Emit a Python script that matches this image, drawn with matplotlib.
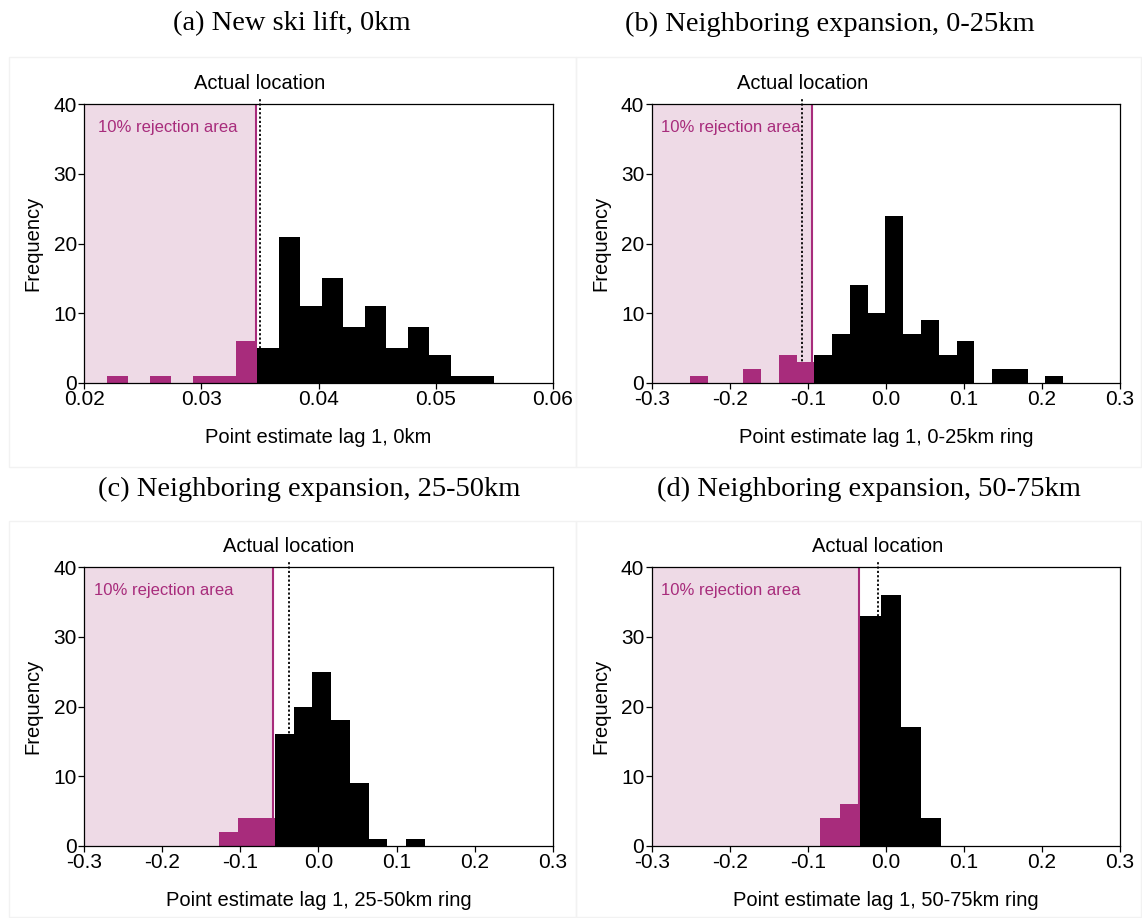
import numpy as np
import matplotlib
matplotlib.use("Agg")
import matplotlib.pyplot as plt
from matplotlib.patches import Rectangle

plt.rcParams['font.family'] = ['Liberation Sans', 'DejaVu Sans']

MAGENTA = '#a82c7c'
SHADE = '#eedae6'

titles = ["(a) New ski lift, 0km",
          "(b) Neighboring expansion, 0-25km",
          "(c) Neighboring expansion, 25-50km",
          "(d) Neighboring expansion, 50-75km"]
xlabels = ["Point estimate lag 1, 0km",
           "Point estimate lag 1, 0-25km ring",
           "Point estimate lag 1, 25-50km ring",
           "Point estimate lag 1, 50-75km ring"]

# placebo histograms: first bin edge, bin width, counts per bin
bin_start = [0.02194, -0.2509, -0.1275, -0.0843]
bin_width = [0.001834, 0.02276, 0.02395, 0.02584]
counts_a = [1, 0, 1, 0, 1, 1, 6, 5, 21, 11, 15, 8, 11, 5, 8, 4, 1, 1]
counts_b = [1, 0, 0, 2, 0, 4, 3, 4, 7, 14, 10, 24, 7, 9, 4, 6, 0, 2, 2, 0, 1]
counts_c = [2, 4, 4, 16, 20, 25, 18, 9, 1, 0, 1]
counts_d = [4, 6, 33, 36, 17, 4]
counts = [counts_a, counts_b, counts_c, counts_d]
n_reject = [7, 7, 3, 2]          # bins falling in the 10% tail

cutoff = [0.03466, -0.0950, -0.0579, -0.0344]   # 10th percentile
actual = [0.0350, -0.1070, -0.0378, -0.0100]    # estimate at real location

xlims = [(0.02, 0.06), (-0.3, 0.3), (-0.3, 0.3), (-0.3, 0.3)]
xticks = [[0.02, 0.03, 0.04, 0.05, 0.06],
          [-0.3, -0.2, -0.1, 0.0, 0.1, 0.2, 0.3],
          [-0.3, -0.2, -0.1, 0.0, 0.1, 0.2, 0.3],
          [-0.3, -0.2, -0.1, 0.0, 0.1, 0.2, 0.3]]
xticklabels = [["0.02", "0.03", "0.04", "0.05", "0.06"],
               ["-0.3", "-0.2", "-0.1", "0.0", "0.1", "0.2", "0.3"],
               ["-0.3", "-0.2", "-0.1", "0.0", "0.1", "0.2", "0.3"],
               ["-0.3", "-0.2", "-0.1", "0.0", "0.1", "0.2", "0.3"]]

W, H = 1142, 918
fig = plt.figure(figsize=(W / 100, H / 100), dpi=100)

# light frames around each sub-graph
for (x0, y0, x1, y1) in [(8.5, 57, 576, 467), (576, 57, 1141, 467),
                         (8.5, 521, 576, 917), (576, 521, 1141, 917)]:
    fig.add_artist(Rectangle((x0 / W, 1 - y1 / H), (x1 - x0) / W, (y1 - y0) / H,
                             transform=fig.transFigure, fill=False,
                             edgecolor='#f2f2f2', lw=1))

axes_px = [(84.3, 104.3), (651.7, 104.3), (84.3, 567.3), (651.7, 567.3)]
aw, ah = 468.4, 278.4
title_pos = [(292, 24), (830, 24), (309.5, 489), (869, 489)]
text_off = [13.7, 9.3, 10.0, 9.3]

for i in range(4):
    l, t = axes_px[i]
    ax = fig.add_axes([l / W, 1 - (t + ah) / H, aw / W, ah / H])
    x0, x1 = xlims[i]

    ax.axvspan(x0, cutoff[i], color=SHADE, lw=0, zorder=0)
    ax.plot([actual[i], actual[i]], [0, 41], color='black', ls=(0, (1.2, 1.2)),
            lw=1.3, clip_on=False, zorder=1)
    ax.axvline(cutoff[i], color=MAGENTA, lw=1.5, zorder=1)

    c = np.array(counts[i])
    lefts = bin_start[i] + bin_width[i] * np.arange(len(c))
    colors = [MAGENTA if k < n_reject[i] else 'black' for k in range(len(c))]
    ax.bar(lefts, c, width=bin_width[i], align='edge', color=colors, lw=0, zorder=2)

    ax.set_xlim(x0, x1)
    ax.set_ylim(0, 40)
    ax.set_xticks(xticks[i])
    ax.set_xticklabels(xticklabels[i])
    ax.set_yticks([0, 10, 20, 30, 40])
    ax.tick_params(direction='out', length=4.3, width=0.9, labelsize=15, pad=1.0)
    for s in ax.spines.values():
        s.set_linewidth(0.9)

    ax.set_xlabel(xlabels[i], fontsize=14.5)
    ax.xaxis.set_label_coords(0.5, -55 / ah)
    ax.xaxis.label.set_verticalalignment('center')
    ax.set_ylabel("Frequency", fontsize=14.5)
    ax.yaxis.set_label_coords(-51.3 / aw, 0.5)
    ax.yaxis.label.set_verticalalignment('center')

    ax.text(actual[i], 40 + 21 / (ah / 40), "Actual location",
            ha='center', va='center', fontsize=14.5, clip_on=False)
    ax.text(text_off[i] / aw, 1 - 23 / ah, "10% rejection area", transform=ax.transAxes,
            ha='left', va='center', fontsize=12, color=MAGENTA)

    tx, ty = title_pos[i]
    fig.text(tx / W, 1 - ty / H, titles[i], ha='center', va='center',
             fontsize=20.5, family=['Liberation Serif', 'DejaVu Serif'])

fig.savefig("out.png", dpi=100, facecolor='white')
